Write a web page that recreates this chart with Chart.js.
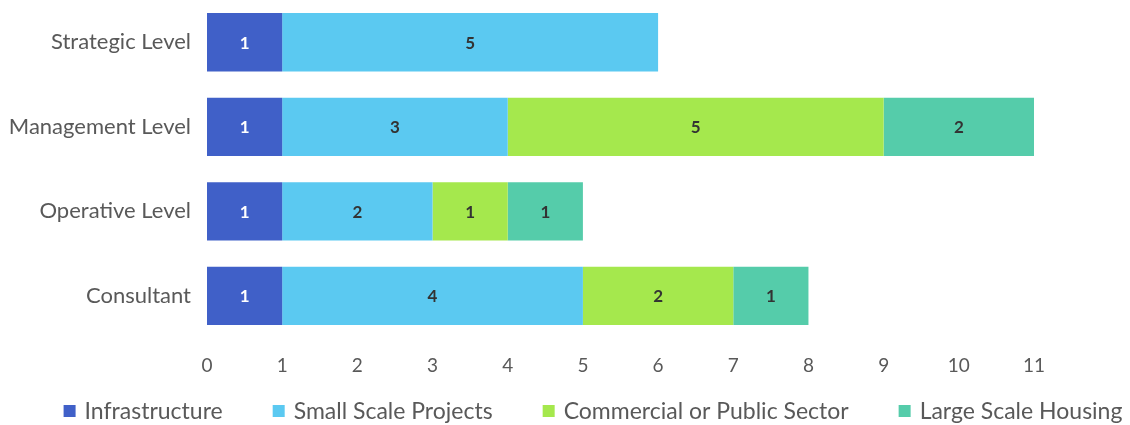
<!DOCTYPE html>
<html>
<head>
<meta charset="utf-8">
<script src="https://cdn.jsdelivr.net/npm/chart.js@4/dist/chart.umd.min.js"></script>
<style>
  html, body { margin: 0; padding: 0; background: #ffffff; }
  #wrap { width: 1130px; height: 425px; position: relative; }
</style>
</head>
<body>
<div id="wrap"><canvas id="chart"></canvas></div>
<script>
// Categories (top to bottom) and series values
const categories = ["Strategic Level", "Management Level", "Operative Level", "Consultant"];
const infrastructure = [1, 1, 1, 1];
const smallScaleProjects = [5, 3, 2, 4];
const commercialOrPublic = [0, 5, 1, 2];
const largeScaleHousing = [0, 2, 1, 1];
const xTicks = [0, 1, 2, 3, 4, 5, 6, 7, 8, 9, 10, 11];

const FONT = "Lato, 'Open Sans', sans-serif";
const TEXT_GREY = "#595959";

// Writes each segment's value in the middle of its bar
const segmentLabels = {
  id: "segmentLabels",
  afterDatasetsDraw(chart) {
    const ctx = chart.ctx;
    ctx.save();
    ctx.font = "bold 17px " + FONT;
    ctx.textAlign = "center";
    ctx.textBaseline = "middle";
    chart.data.datasets.forEach((ds, i) => {
      const meta = chart.getDatasetMeta(i);
      if (meta.hidden) return;
      meta.data.forEach((bar, j) => {
        const v = ds.data[j];
        if (!v) return;
        const p = bar.getProps(["x", "y", "base"], true);
        ctx.fillStyle = ds.labelColor;
        ctx.fillText(String(v), (p.x + p.base) / 2, p.y + 1);
      });
    });
    ctx.restore();
  }
};

// Single-row legend under the axis, with wide gaps between entries
const bottomLegend = {
  id: "bottomLegend",
  afterDraw(chart, _args, opts) {
    const ctx = chart.ctx;
    const box = opts.boxSize, gapText = opts.textGap, gapItem = opts.itemGap;
    ctx.save();
    ctx.font = opts.fontSize + "px " + FONT;
    ctx.textBaseline = "middle";
    ctx.textAlign = "left";
    const items = chart.data.datasets.map(ds => ({
      text: ds.label,
      color: ds.backgroundColor,
      w: box + gapText + ctx.measureText(ds.label).width
    }));
    const total = items.reduce((s, it) => s + it.w, 0) + gapItem * (items.length - 1);
    let x = opts.centerX - total / 2;
    const y = chart.height - opts.bottomOffset;
    items.forEach(it => {
      ctx.fillStyle = it.color;
      ctx.fillRect(x, y - box / 2, box, box);
      ctx.fillStyle = TEXT_GREY;
      ctx.fillText(it.text, x + box + gapText, y + 1);
      x += it.w + gapItem;
    });
    ctx.restore();
  }
};

new Chart(document.getElementById("chart"), {
  type: "bar",
  data: {
    labels: categories,
    datasets: [
      { label: "Infrastructure", data: infrastructure, backgroundColor: "#4060C8", labelColor: "#ffffff" },
      { label: "Small Scale Projects", data: smallScaleProjects, backgroundColor: "#5BC9F1", labelColor: "#333333" },
      { label: "Commercial or Public Sector", data: commercialOrPublic, backgroundColor: "#A5E84D", labelColor: "#333333" },
      { label: "Large Scale Housing", data: largeScaleHousing, backgroundColor: "#55CCAA", labelColor: "#333333" }
    ]
  },
  options: {
    indexAxis: "y",
    responsive: true,
    maintainAspectRatio: false,
    animation: false,
    layout: { padding: { left: 0, right: 96, top: 0, bottom: 40 } },
    datasets: { bar: { barPercentage: 0.69, categoryPercentage: 1.0 } },
    scales: {
      x: {
        stacked: true,
        min: 0,
        max: 11,
        grid: { display: false },
        border: { display: false },
        afterBuildTicks(axis) { axis.ticks = xTicks.map(v => ({ value: v })); },
        ticks: { color: TEXT_GREY, font: { family: FONT, size: 19 }, padding: 8 }
      },
      y: {
        stacked: true,
        grid: { display: false },
        border: { display: false },
        ticks: { color: TEXT_GREY, font: { family: FONT, size: 22 }, padding: 8 },
        afterFit(axis) {
          axis.width = 207;
          // bands fill the full plot height
          axis.paddingTop = 0;
          axis.paddingBottom = 0;
        }
      }
    },
    plugins: {
      legend: { display: false },
      tooltip: { enabled: false },
      bottomLegend: { boxSize: 12, textGap: 9, itemGap: 50, fontSize: 23, centerX: 593, bottomOffset: 14 }
    }
  },
  plugins: [segmentLabels, bottomLegend]
});
</script>
</body>
</html>
